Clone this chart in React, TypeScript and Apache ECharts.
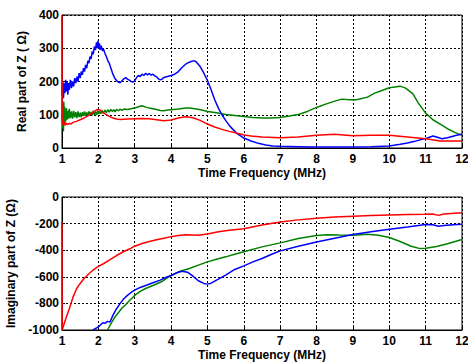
import React, { useEffect, useRef } from "react";
import * as echarts from "echarts";

const xTicks = [1, 2, 3, 4, 5, 6, 7, 8, 9, 10, 11, 12];
const realTicks = [0, 100, 200, 300, 400];
const imagTicks = [-1000, -800, -600, -400, -200, 0];

const blueReal: [number, number][] = [[1.00,160],[1.02,200],[1.04,150],[1.06,195],[1.08,165],[1.10,205],[1.12,170],[1.14,200],[1.16,160],[1.18,195],[1.20,175],[1.23,205],[1.26,180],[1.29,200],[1.32,185],[1.35,210],[1.38,195],[1.41,215],[1.44,200],[1.47,225],[1.50,210],[1.53,230],[1.56,220],[1.59,240],[1.62,230],[1.65,250],[1.68,240],[1.71,262],[1.74,255],[1.77,275],[1.80,268],[1.83,290],[1.86,282],[1.89,305],[1.92,295],[1.95,318],[1.97,300],[1.99,322],[2.01,298],[2.03,315],[2.05,295],[2.08,308],[2.11,292],[2.14,298],[2.18,285],[2.22,275],[2.26,262],[2.30,255],[2.35,238],[2.40,222],[2.45,210],[2.50,203],[2.55,198],[2.60,196],[2.65,202],[2.70,208],[2.75,212],[2.80,207],[2.85,204],[2.90,200],[2.95,198],[3.00,202],[3.05,212],[3.10,218],[3.15,215],[3.20,222],[3.25,218],[3.30,225],[3.35,220],[3.40,224],[3.45,219],[3.50,222],[3.55,217],[3.60,214],[3.65,208],[3.70,205],[3.75,207],[3.80,212],[3.90,215],[4.00,218],[4.10,222],[4.20,230],[4.30,242],[4.40,252],[4.50,258],[4.60,262],[4.65,262],[4.70,258],[4.80,245],[4.90,225],[5.00,203],[5.10,175],[5.20,145],[5.30,120],[5.40,100],[5.50,83],[5.60,68],[5.70,56],[5.80,45],[5.90,37],[6.00,30],[6.20,21],[6.40,14],[6.60,9],[6.80,6],[7.00,5],[7.50,4],[8.00,3],[8.50,3],[9.00,3],[9.50,4],[10.00,6],[10.30,11],[10.50,15],[10.70,20],[10.90,26],[11.05,30],[11.20,36],[11.30,33],[11.45,28],[11.60,31],[11.80,37],[12.00,42]];

const greenReal: [number, number][] = [[1.00,90],[1.01,130],[1.02,60],[1.03,120],[1.04,50],[1.05,140],[1.06,75],[1.07,125],[1.08,70],[1.09,115],[1.10,80],[1.12,120],[1.14,85],[1.16,112],[1.18,88],[1.20,118],[1.23,90],[1.26,110],[1.29,88],[1.32,112],[1.35,92],[1.38,108],[1.41,90],[1.44,110],[1.47,93],[1.50,106],[1.53,92],[1.56,108],[1.59,96],[1.62,110],[1.65,97],[1.68,107],[1.71,98],[1.74,110],[1.77,100],[1.80,108],[1.83,98],[1.86,112],[1.89,100],[1.92,108],[1.95,99],[1.98,112],[2.01,102],[2.04,110],[2.07,103],[2.10,113],[2.14,105],[2.18,114],[2.22,106],[2.26,115],[2.30,108],[2.34,116],[2.38,110],[2.42,115],[2.46,109],[2.50,116],[2.55,112],[2.60,117],[2.65,113],[2.70,117],[2.80,116],[2.90,118],[3.00,120],[3.10,124],[3.20,127],[3.30,123],[3.40,120],[3.50,118],[3.60,116],[3.70,113],[3.80,112],[3.90,114],[4.00,115],[4.20,117],[4.40,120],[4.50,120],[4.70,117],[4.90,113],[5.00,110],[5.25,106],[5.50,101],[5.75,98],[6.00,95],[6.25,92],[6.50,90],[6.75,90],[7.00,92],[7.25,96],[7.50,101],[7.75,110],[8.00,122],[8.25,132],[8.50,141],[8.70,147],[8.90,145],[9.10,145],[9.40,153],[9.60,165],[9.80,173],[10.00,181],[10.30,186],[10.45,180],[10.65,163],[10.80,135],[11.00,105],[11.20,85],[11.40,72],[11.60,58],[11.80,47],[12.00,38]];

const redReal: [number, number][] = [[1.00,400],[1.005,85],[1.02,70],[1.05,80],[1.08,68],[1.11,75],[1.15,70],[1.20,74],[1.25,72],[1.30,77],[1.40,80],[1.50,85],[1.60,90],[1.70,96],[1.80,103],[1.90,110],[1.95,115],[2.00,116],[2.05,114],[2.10,108],[2.20,102],[2.30,95],[2.40,90],[2.50,87],[2.60,86],[2.80,87],[3.00,88],[3.20,89],[3.40,88],[3.60,85],[3.80,82],[4.00,84],[4.20,90],[4.40,94],[4.60,91],[4.80,83],[5.00,72],[5.20,63],[5.40,56],[5.60,50],[5.80,45],[6.00,39],[6.20,36],[6.50,33],[7.00,31],[7.50,33],[8.00,38],[8.50,41],[9.00,37],[9.50,38],[10.00,38],[10.50,33],[11.00,28],[11.40,21],[12.00,21]];

const redImag: [number, number][] = [[1.00,-190],[1.005,-1000],[1.05,-960],[1.10,-920],[1.20,-840],[1.30,-755],[1.40,-690],[1.50,-650],[1.60,-615],[1.70,-588],[1.80,-562],[1.90,-540],[2.00,-522],[2.15,-500],[2.30,-475],[2.50,-440],[2.70,-410],[2.90,-385],[3.00,-370],[3.20,-350],[3.40,-335],[3.60,-322],[3.80,-310],[4.00,-298],[4.20,-290],[4.40,-284],[4.60,-285],[4.75,-288],[5.00,-278],[5.30,-262],[5.60,-250],[6.00,-238],[6.50,-210],[7.00,-188],[7.50,-172],[8.00,-160],[8.50,-150],[9.00,-145],[9.50,-140],[10.00,-135],[10.50,-132],[11.00,-130],[11.20,-128],[11.35,-138],[11.50,-128],[12.00,-118]];

const blueImag: [number, number][] = [[1.85,-1000],[1.95,-985],[2.05,-965],[2.12,-945],[2.18,-950],[2.25,-935],[2.32,-940],[2.40,-890],[2.50,-840],[2.60,-800],[2.70,-765],[2.80,-740],[2.90,-718],[3.00,-700],[3.15,-680],[3.30,-665],[3.50,-645],[3.70,-625],[3.85,-605],[4.00,-590],[4.15,-570],[4.30,-558],[4.45,-565],[4.60,-595],[4.75,-630],[4.90,-650],[5.00,-655],[5.10,-648],[5.25,-625],[5.50,-588],[5.75,-545],[6.00,-518],[6.25,-488],[6.50,-462],[6.75,-432],[7.00,-405],[7.50,-370],[8.00,-338],[8.50,-310],[9.00,-282],[9.50,-262],[10.00,-242],[10.50,-225],[11.00,-207],[11.20,-208],[11.35,-220],[11.50,-215],[11.75,-208],[12.00,-205]];

const greenImag: [number, number][] = [[2.25,-1000],[2.35,-950],[2.45,-905],[2.55,-870],[2.65,-835],[2.75,-810],[2.85,-780],[3.00,-740],[3.15,-710],[3.30,-688],[3.50,-665],[3.75,-635],[4.00,-590],[4.25,-558],[4.50,-538],[4.75,-512],[5.00,-488],[5.25,-468],[5.50,-450],[5.75,-430],[6.00,-412],[6.50,-375],[7.00,-345],[7.50,-312],[8.00,-290],[8.30,-283],[8.60,-285],[9.00,-287],[9.40,-280],[9.70,-288],[10.00,-305],[10.30,-335],[10.60,-370],[10.85,-388],[11.00,-385],[11.30,-372],[11.60,-352],[12.00,-320]];

const FONT = "'Liberation Sans', Arial, sans-serif";

export default function App() {
  const ref = useRef<HTMLDivElement>(null);
  useEffect(() => {
    if (!ref.current) return;
    const chart = echarts.init(ref.current, null, { renderer: "svg" });
    const labelStyle = { color: "#000", fontWeight: "bold" as const, fontSize: 12, fontFamily: FONT };
    const splitLine = { show: true, lineStyle: { color: "#000", type: [2, 2] as number[], width: 1 } };
    const mkX = (gi: number) => ({
      type: "value" as const,
      gridIndex: gi,
      min: xTicks[0],
      max: xTicks[xTicks.length - 1],
      interval: 1,
      name: "Time Frequency (MHz)",
      nameLocation: "middle" as const,
      nameGap: 19,
      nameTextStyle: labelStyle,
      axisLine: { show: true, onZero: false, lineStyle: { color: "#000", width: 1 } },
      axisTick: { show: true, inside: true, length: 3, lineStyle: { color: "#000" } },
      axisLabel: { ...labelStyle, margin: 5, formatter: (v: number) => String(v) },
      splitLine,
    });
    const mkY = (gi: number, ticks: number[], name: string, gap: number) => ({
      type: "value" as const,
      gridIndex: gi,
      min: ticks[0],
      max: ticks[ticks.length - 1],
      interval: ticks[1] - ticks[0],
      name,
      nameLocation: "middle" as const,
      nameGap: gap,
      nameRotate: 90,
      nameTextStyle: labelStyle,
      axisLine: { show: true, onZero: false, lineStyle: { color: "#000", width: 1 } },
      axisTick: { show: true, inside: true, length: 3, lineStyle: { color: "#000" } },
      axisLabel: { ...labelStyle, margin: 3, formatter: (v: number) => String(v) },
      splitLine,
    });
    const line = (data: [number, number][], color: string, gi: number) => ({
      type: "line" as const,
      xAxisIndex: gi,
      yAxisIndex: gi,
      data,
      showSymbol: false,
      symbol: "none",
      clip: true,
      lineStyle: { color, width: 1.5 },
    });
    const gridBase = {
      left: 62, width: 400, height: 133, show: true, borderColor: "#000", borderWidth: 1,
      backgroundColor: "#fff", containLabel: false, outerBoundsMode: "none",
    };
    chart.setOption({
      animation: false,
      backgroundColor: "#fff",
      grid: [
        { ...gridBase, top: 15 },
        { ...gridBase, top: 197 },
      ],
      xAxis: [mkX(0), mkX(1)],
      yAxis: [
        mkY(0, realTicks, "Real part of Z ( Ω)", 30),
        mkY(1, imagTicks, "Imaginary part of Z (Ω)", 38),
      ],
      series: [
        line(greenReal, "#008000", 0),
        line(blueReal, "#0000ff", 0),
        line(redReal, "#ff0000", 0),
        line(greenImag, "#008000", 1),
        line(blueImag, "#0000ff", 1),
        line(redImag, "#ff0000", 1),
      ],
    });
    return () => chart.dispose();
  }, []);
  return <div ref={ref} style={{ width: 468, height: 362, position: "absolute", left: 0, top: 0 }} />;
}
